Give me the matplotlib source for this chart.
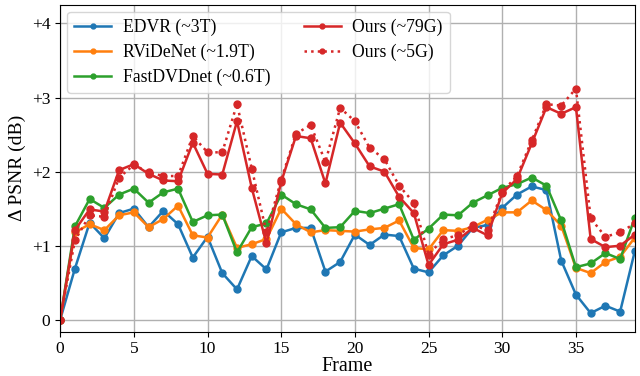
import numpy as np
import matplotlib
matplotlib.use('Agg')
from matplotlib import pyplot as plt

plt.rcParams['font.family'] = ['Liberation Serif', 'DejaVu Serif']
plt.rcParams['font.size'] = 12

frames = np.arange(40)

edvr = [0, 0.69, 1.31, 1.10, 1.44, 1.50, 1.25, 1.47, 1.29, 0.84,
        1.12, 0.63, 0.41, 0.86, 0.68, 1.18, 1.24, 1.24, 0.65, 0.78,
        1.15, 1.01, 1.15, 1.13, 0.69, 0.64, 0.87, 1.00, 1.24, 1.28,
        1.51, 1.69, 1.80, 1.75, 0.80, 0.34, 0.09, 0.19, 0.11, 0.93]
rvidenet = [0, 1.18, 1.29, 1.21, 1.41, 1.45, 1.25, 1.36, 1.54, 1.14,
            1.11, 1.42, 0.97, 1.02, 1.09, 1.50, 1.29, 1.18, 1.21, 1.20,
            1.19, 1.22, 1.24, 1.34, 0.97, 0.95, 1.21, 1.20, 1.25, 1.35,
            1.45, 1.45, 1.61, 1.48, 1.27, 0.70, 0.63, 0.78, 0.85, 1.11]
fastdvd = [0, 1.26, 1.63, 1.51, 1.69, 1.77, 1.58, 1.72, 1.77, 1.32,
           1.41, 1.42, 0.91, 1.25, 1.30, 1.69, 1.56, 1.49, 1.24, 1.25,
           1.47, 1.44, 1.50, 1.56, 1.08, 1.23, 1.42, 1.41, 1.58, 1.68,
           1.78, 1.83, 1.92, 1.81, 1.34, 0.71, 0.76, 0.90, 0.82, 1.38]
ours_79g = [0, 1.21, 1.49, 1.46, 2.02, 2.10, 1.97, 1.88, 1.87, 2.39,
            1.97, 1.96, 2.68, 1.78, 1.03, 1.86, 2.48, 2.45, 1.84, 2.66,
            2.38, 2.07, 2.00, 1.66, 1.44, 0.74, 1.02, 1.08, 1.24, 1.14,
            1.71, 1.90, 2.38, 2.87, 2.78, 2.87, 1.09, 0.98, 1.00, 1.15]
ours_5g = [0, 1.07, 1.41, 1.39, 1.92, 2.09, 1.99, 1.94, 1.94, 2.48,
           2.26, 2.26, 2.91, 2.04, 1.18, 1.89, 2.51, 2.63, 2.13, 2.86,
           2.68, 2.32, 2.17, 1.81, 1.58, 0.88, 1.09, 1.14, 1.28, 1.21,
           1.73, 1.94, 2.42, 2.91, 2.89, 3.12, 1.37, 1.12, 1.18, 1.30]

fig = plt.figure(figsize=(6.4, 3.76), dpi=100)
ax = fig.add_axes([0.094, 0.118, 0.898, 0.869])

kw = dict(marker='o', markersize=5, linewidth=1.8)
ax.plot(frames, edvr, color='tab:blue', label='EDVR (~3T)', **kw)
ax.plot(frames, rvidenet, color='tab:orange', label='RViDeNet (~1.9T)', **kw)
ax.plot(frames, fastdvd, color='tab:green', label='FastDVDnet (~0.6T)', **kw)
ax.plot(frames, ours_79g, color='tab:red', label='Ours (~79G)', **kw)
ax.plot(frames, ours_5g, color='tab:red', linestyle=':', label='Ours (~5G)', **kw)

ax.set_xlim(0, 39)
ax.set_ylim(-0.16, 4.25)
ax.set_xticks([0, 5, 10, 15, 20, 25, 30, 35])
ax.set_yticks([0, 1, 2, 3, 4])
ax.set_yticklabels(['0', '+1', '+2', '+3', '+4'])
ax.tick_params(labelsize=12.5)
ax.grid(True, color='#b0b0b0', linewidth=1)
ax.set_axisbelow(True)
ax.set_xlabel('Frame', fontsize=14.5, labelpad=0)
ax.set_ylabel('Δ PSNR (dB)', fontsize=14)
ax.legend(loc='upper left', ncol=2, fontsize=12.7, handlelength=2.1,
          handletextpad=0.65, columnspacing=1.9, labelspacing=0.42,
          markerscale=0.7, borderaxespad=0.4)

plt.savefig('out.png', dpi=100)
